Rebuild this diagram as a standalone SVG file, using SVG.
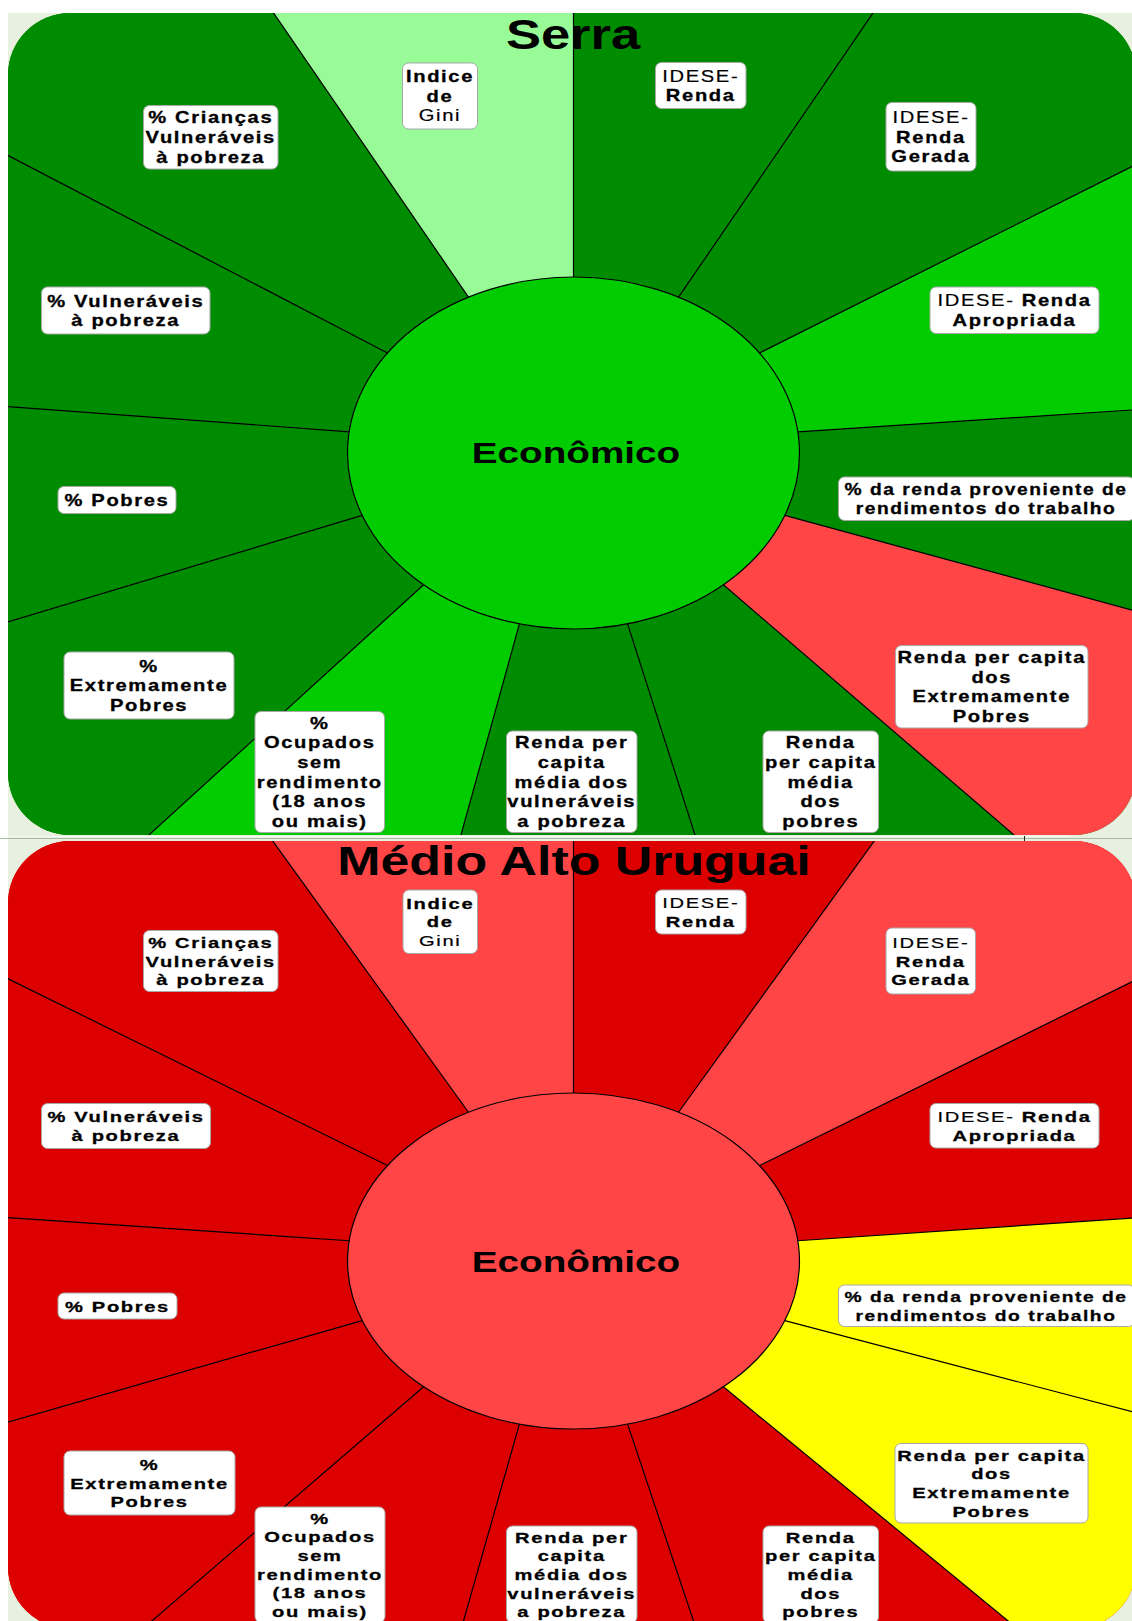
<svg xmlns="http://www.w3.org/2000/svg" width="1132" height="1621" viewBox="0 0 1132 1621">
  <style>
    .dg { fill: #008C00; }
    .bg { fill: #00CC00; }
    .lg { fill: #98FB98; }
    .lr { fill: #FF4545; }
    .dr { fill: #DC0000; }
    .ye { fill: #FFFF00; }
    .spoke { stroke: #000; stroke-width: 1.2; fill: none; }
    .hub { stroke: #000; stroke-width: 1.2; }
    .box { fill: #FFFFFF; stroke: #A8A8A8; stroke-width: 1; }
    .lbl { font-family: "Liberation Sans", Arial, sans-serif; font-weight: bold; font-size: 16px; letter-spacing: 1.3px; text-anchor: middle; fill: #000; stroke: #000; stroke-width: 0.3px; }
    .thin { font-weight: normal; stroke-width: 0.2px; }
    .title { font-family: "Liberation Sans", Arial, sans-serif; font-weight: bold; font-size: 42px; text-anchor: middle; fill: #000; }
    .hubtxt { font-family: "Liberation Sans", Arial, sans-serif; font-weight: bold; font-size: 30px; text-anchor: middle; fill: #000; }
  </style>
  <defs>
    <clipPath id="clipSerra"><rect x="8" y="13" width="1128" height="822" rx="62"/></clipPath>
    <clipPath id="clipMAU"><rect x="8" y="841" width="1128" height="788" rx="62"/></clipPath>
  </defs>

  <!-- page background -->
  <rect x="0" y="0" width="1132" height="1621" fill="#FFFFFF"/>
  <rect x="8" y="13" width="1124" height="1608" fill="#E8F0E0"/>
  <line x1="0" y1="836.5" x2="1070" y2="836.5" stroke="#F6FAF2" stroke-width="1"/>
  <line x1="0" y1="838.5" x2="1132" y2="838.5" stroke="#A8B8A4" stroke-width="1"/>
  <line x1="1024.5" y1="836" x2="1024.5" y2="841" stroke="#202020" stroke-width="1"/>

  <!-- ===== Panel 1: Serra ===== -->
  <g id="panel-serra">
    <g id="serra-sectors" clip-path="url(#clipSerra)">
      <rect x="8" y="13" width="1128" height="822" class="dg"/>
      <polygon id="serra-s-gini" class="lg" points="573.5,453 468.47,297.16 264.7,0 573.5,0 573.5,277"/>
      <polygon id="serra-s-renda" class="dg" points="573.5,453 573.5,277 573.5,0 881.9,0 678.53,297.16"/>
      <polygon id="serra-s-gerada" class="dg" points="573.5,453 678.53,297.16 881.9,0 1140,0 1140,162.5 759.5,353.02"/>
      <polygon id="serra-s-apropriada" class="bg" points="573.5,453 759.5,353.02 1140,162.5 1140,409.5 797.85,431.78"/>
      <polygon id="serra-s-trabalho" class="dg" points="573.5,453 797.85,431.78 1140,409.5 1140,612.2 784.81,515.41"/>
      <polygon id="serra-s-rendaext" class="lr" points="573.5,453 784.81,515.41 1140,612.2 1140,845 1025.6,845 723.37,584.74"/>
      <polygon id="serra-s-medpobres" class="dg" points="573.5,453 723.37,584.74 1025.6,845 698.2,845 627.59,623.89"/>
      <polygon id="serra-s-medvuln" class="dg" points="573.5,453 627.59,623.89 698.2,845 458.2,845 519.41,623.89"/>
      <polygon id="serra-s-ocupados" class="bg" points="573.5,453 519.41,623.89 458.2,845 138,845 423.63,584.74"/>
      <polygon id="serra-s-extpobres" class="dg" points="573.5,453 423.63,584.74 138,845 0,845 0,624.4 362.19,515.41"/>
      <polygon id="serra-s-pobres" class="dg" points="573.5,453 362.19,515.41 0,624.4 0,406 349.15,431.78"/>
      <polygon id="serra-s-vulneraveis" class="dg" points="573.5,453 349.15,431.78 0,406 0,151.3 387.5,353.02"/>
      <polygon id="serra-s-criancas" class="dg" points="573.5,453 387.5,353.02 0,151.3 0,0 264.7,0 468.47,297.16"/>
    </g>

    <g id="serra-connectors" clip-path="url(#clipSerra)">
      <line class="spoke" x1="573.5" y1="277" x2="573.5" y2="0"/>
      <line class="spoke" x1="678.53" y1="297.16" x2="881.9" y2="0"/>
      <line class="spoke" x1="759.5" y1="353.02" x2="1140" y2="162.5"/>
      <line class="spoke" x1="797.85" y1="431.78" x2="1140" y2="409.5"/>
      <line class="spoke" x1="784.81" y1="515.41" x2="1140" y2="612.2"/>
      <line class="spoke" x1="723.37" y1="584.74" x2="1025.6" y2="845"/>
      <line class="spoke" x1="627.59" y1="623.89" x2="698.2" y2="845"/>
      <line class="spoke" x1="519.41" y1="623.89" x2="458.2" y2="845"/>
      <line class="spoke" x1="423.63" y1="584.74" x2="138" y2="845"/>
      <line class="spoke" x1="362.19" y1="515.41" x2="0" y2="624.4"/>
      <line class="spoke" x1="349.15" y1="431.78" x2="0" y2="406"/>
      <line class="spoke" x1="387.5" y1="353.02" x2="0" y2="151.3"/>
      <line class="spoke" x1="468.47" y1="297.16" x2="264.7" y2="0"/>
    </g>

    <g id="serra-hub">
      <ellipse class="hub bg" cx="573.5" cy="453" rx="226" ry="176"/>
      <g transform="translate(576,463) scale(1.29,1)"><text class="hubtxt" x="0" y="0">Econômico</text></g>
    </g>

    <g id="serra-title" transform="translate(573,48.5) scale(1.25,1)">
      <text class="title" x="0" y="0">Serra</text>
    </g>

    <g id="serra-gini">
      <rect class="box" x="402.5" y="63" width="75" height="66" rx="6"/>
      <g transform="translate(440,96) scale(1.26,1)"><text class="lbl"><tspan x="0" y="-13.8">Indice</tspan><tspan x="0" y="5.8">de</tspan><tspan x="0" y="25.4" class="thin">Gini</tspan></text></g>
    </g>
    <g id="serra-idese-renda">
      <rect class="box" x="655.5" y="62.5" width="90.5" height="46" rx="6"/>
      <g transform="translate(700.75,85.5) scale(1.26,1)"><text class="lbl"><tspan x="0" y="-4" class="thin">IDESE-</tspan><tspan x="0" y="15.6">Renda</tspan></text></g>
    </g>
    <g id="serra-idese-gerada">
      <rect class="box" x="886" y="102.5" width="90" height="68.5" rx="6"/>
      <g transform="translate(931,136.75) scale(1.26,1)"><text class="lbl"><tspan x="0" y="-13.8" class="thin">IDESE-</tspan><tspan x="0" y="5.8">Renda</tspan><tspan x="0" y="25.4">Gerada</tspan></text></g>
    </g>
    <g id="serra-idese-apropriada">
      <rect class="box" x="930" y="287" width="169" height="46.5" rx="6"/>
      <g transform="translate(1014.5,310.25) scale(1.26,1)"><text class="lbl"><tspan x="0" y="-4"><tspan class="thin">IDESE-</tspan> Renda</tspan><tspan x="0" y="15.6">Apropriada</tspan></text></g>
    </g>
    <g id="serra-renda-trabalho">
      <rect class="box" x="838.5" y="477" width="296" height="43.5" rx="6"/>
      <g transform="translate(986,498.75) scale(1.2,1)"><text class="lbl"><tspan x="0" y="-4">% da renda proveniente de</tspan><tspan x="0" y="15.6">rendimentos do trabalho</tspan></text></g>
    </g>
    <g id="serra-renda-ext-pobres">
      <rect class="box" x="895.5" y="645.5" width="192.5" height="82.5" rx="6"/>
      <g transform="translate(991.75,686.75) scale(1.26,1)"><text class="lbl"><tspan x="0" y="-23.6">Renda per capita</tspan><tspan x="0" y="-4">dos</tspan><tspan x="0" y="15.6">Extremamente</tspan><tspan x="0" y="35.2">Pobres</tspan></text></g>
    </g>
    <g id="serra-renda-media-pobres">
      <rect class="box" x="763" y="731" width="115.5" height="101.5" rx="6"/>
      <g transform="translate(820.75,781.75) scale(1.26,1)"><text class="lbl"><tspan x="0" y="-33.4">Renda</tspan><tspan x="0" y="-13.8">per capita</tspan><tspan x="0" y="5.8">média</tspan><tspan x="0" y="25.4">dos</tspan><tspan x="0" y="45">pobres</tspan></text></g>
    </g>
    <g id="serra-renda-media-vulneraveis">
      <rect class="box" x="506.5" y="731" width="130.5" height="101.5" rx="6"/>
      <g transform="translate(571.75,781.75) scale(1.26,1)"><text class="lbl"><tspan x="0" y="-33.4">Renda per</tspan><tspan x="0" y="-13.8">capita</tspan><tspan x="0" y="5.8">média dos</tspan><tspan x="0" y="25.4">vulneráveis</tspan><tspan x="0" y="45">a pobreza</tspan></text></g>
    </g>
    <g id="serra-ocupados">
      <rect class="box" x="255" y="711.5" width="129.5" height="121" rx="6"/>
      <g transform="translate(319.75,772) scale(1.26,1)"><text class="lbl"><tspan x="0" y="-43.2">%</tspan><tspan x="0" y="-23.6">Ocupados</tspan><tspan x="0" y="-4">sem</tspan><tspan x="0" y="15.6">rendimento</tspan><tspan x="0" y="35.2">(18 anos</tspan><tspan x="0" y="54.8">ou mais)</tspan></text></g>
    </g>
    <g id="serra-ext-pobres">
      <rect class="box" x="64" y="652" width="170" height="67" rx="6"/>
      <g transform="translate(149,685.5) scale(1.26,1)"><text class="lbl"><tspan x="0" y="-13.8">%</tspan><tspan x="0" y="5.8">Extremamente</tspan><tspan x="0" y="25.4">Pobres</tspan></text></g>
    </g>
    <g id="serra-pobres">
      <rect class="box" x="58" y="486.5" width="118" height="27" rx="6"/>
      <g transform="translate(117,500) scale(1.26,1)"><text class="lbl"><tspan x="0" y="5.8">% Pobres</tspan></text></g>
    </g>
    <g id="serra-vulneraveis">
      <rect class="box" x="41.5" y="287" width="168.5" height="47" rx="6"/>
      <g transform="translate(125.75,310.5) scale(1.26,1)"><text class="lbl"><tspan x="0" y="-4">% Vulneráveis</tspan><tspan x="0" y="15.6">à pobreza</tspan></text></g>
    </g>
    <g id="serra-criancas">
      <rect class="box" x="143.5" y="105.5" width="134.5" height="63.5" rx="6"/>
      <g transform="translate(210.75,137.25) scale(1.26,1)"><text class="lbl"><tspan x="0" y="-13.8">% Crianças</tspan><tspan x="0" y="5.8">Vulneráveis</tspan><tspan x="0" y="25.4">à pobreza</tspan></text></g>
    </g>
  </g>

  <!-- ===== Panel 2: Médio Alto Uruguai ===== -->
  <g id="panel-mau">
    <g id="mau-sectors" clip-path="url(#clipMAU)">
      <rect x="8" y="841" width="1128" height="788" class="dr"/>
      <polygon id="mau-s-gini" class="lr" points="573.5,1261 468.47,1112.24 264.8,830 573.5,830 573.5,1093"/>
      <polygon id="mau-s-renda" class="dr" points="573.5,1261 573.5,1093 573.5,830 882.2,830 678.53,1112.24"/>
      <polygon id="mau-s-gerada" class="lr" points="573.5,1261 678.53,1112.24 882.2,830 1140,830 1140,977.8 759.5,1165.57"/>
      <polygon id="mau-s-apropriada" class="dr" points="573.5,1261 759.5,1165.57 1140,977.8 1140,1217.5 797.85,1240.75"/>
      <polygon id="mau-s-trabalho" class="ye" points="573.5,1261 797.85,1240.75 1140,1217.5 1140,1413.8 784.81,1320.57"/>
      <polygon id="mau-s-rendaext" class="ye" points="573.5,1261 784.81,1320.57 1140,1413.8 1140,1640 1031.3,1640 723.37,1386.75"/>
      <polygon id="mau-s-medpobres" class="dr" points="573.5,1261 723.37,1386.75 1031.3,1640 699.9,1640 627.59,1424.12"/>
      <polygon id="mau-s-medvuln" class="dr" points="573.5,1261 627.59,1424.12 699.9,1640 458.1,1640 519.41,1424.12"/>
      <polygon id="mau-s-ocupados" class="dr" points="573.5,1261 519.41,1424.12 458.1,1640 129.8,1640 423.63,1386.75"/>
      <polygon id="mau-s-extpobres" class="dr" points="573.5,1261 423.63,1386.75 129.8,1640 0,1640 0,1424.3 362.19,1320.57"/>
      <polygon id="mau-s-pobres" class="dr" points="573.5,1261 362.19,1320.57 0,1424.3 0,1217.1 349.15,1240.75"/>
      <polygon id="mau-s-vulneraveis" class="dr" points="573.5,1261 349.15,1240.75 0,1217.1 0,974.8 387.5,1165.57"/>
      <polygon id="mau-s-criancas" class="dr" points="573.5,1261 387.5,1165.57 0,974.8 0,830 264.8,830 468.47,1112.24"/>
    </g>

    <g id="mau-connectors" clip-path="url(#clipMAU)">
      <line class="spoke" x1="573.5" y1="1093" x2="573.5" y2="830"/>
      <line class="spoke" x1="678.53" y1="1112.24" x2="882.2" y2="830"/>
      <line class="spoke" x1="759.5" y1="1165.57" x2="1140" y2="977.8"/>
      <line class="spoke" x1="797.85" y1="1240.75" x2="1140" y2="1217.5"/>
      <line class="spoke" x1="784.81" y1="1320.57" x2="1140" y2="1413.8"/>
      <line class="spoke" x1="723.37" y1="1386.75" x2="1031.3" y2="1640"/>
      <line class="spoke" x1="627.59" y1="1424.12" x2="699.9" y2="1640"/>
      <line class="spoke" x1="519.41" y1="1424.12" x2="458.1" y2="1640"/>
      <line class="spoke" x1="423.63" y1="1386.75" x2="129.8" y2="1640"/>
      <line class="spoke" x1="362.19" y1="1320.57" x2="0" y2="1424.3"/>
      <line class="spoke" x1="349.15" y1="1240.75" x2="0" y2="1217.1"/>
      <line class="spoke" x1="387.5" y1="1165.57" x2="0" y2="974.8"/>
      <line class="spoke" x1="468.47" y1="1112.24" x2="264.8" y2="830"/>
    </g>

    <g id="mau-hub">
      <ellipse class="hub lr" cx="573.5" cy="1261" rx="226" ry="168"/>
      <g transform="translate(576,1271.5) scale(1.29,0.955)"><text class="hubtxt" x="0" y="0">Econômico</text></g>
    </g>

    <g id="mau-title" transform="translate(574,875) scale(1.235,0.955)">
      <text class="title" x="0" y="0">Médio Alto Uruguai</text>
    </g>

    <g id="mau-gini">
      <rect class="box" x="403" y="890" width="74.5" height="63.5" rx="6"/>
      <g transform="translate(440.25,921.75) scale(1.26,0.955)"><text class="lbl"><tspan x="0" y="-13.8">Indice</tspan><tspan x="0" y="5.8">de</tspan><tspan x="0" y="25.4" class="thin">Gini</tspan></text></g>
    </g>
    <g id="mau-idese-renda">
      <rect class="box" x="655.5" y="890" width="90.5" height="44" rx="6"/>
      <g transform="translate(700.75,912) scale(1.26,0.955)"><text class="lbl"><tspan x="0" y="-4" class="thin">IDESE-</tspan><tspan x="0" y="15.6">Renda</tspan></text></g>
    </g>
    <g id="mau-idese-gerada">
      <rect class="box" x="886" y="928" width="89.5" height="66" rx="6"/>
      <g transform="translate(930.75,961) scale(1.26,0.955)"><text class="lbl"><tspan x="0" y="-13.8" class="thin">IDESE-</tspan><tspan x="0" y="5.8">Renda</tspan><tspan x="0" y="25.4">Gerada</tspan></text></g>
    </g>
    <g id="mau-idese-apropriada">
      <rect class="box" x="930" y="1103.5" width="169" height="44.5" rx="6"/>
      <g transform="translate(1014.5,1125.75) scale(1.26,0.955)"><text class="lbl"><tspan x="0" y="-4"><tspan class="thin">IDESE-</tspan> Renda</tspan><tspan x="0" y="15.6">Apropriada</tspan></text></g>
    </g>
    <g id="mau-renda-trabalho">
      <rect class="box" x="838.5" y="1285" width="296" height="41.5" rx="6"/>
      <g transform="translate(986,1305.75) scale(1.2,0.955)"><text class="lbl"><tspan x="0" y="-4">% da renda proveniente de</tspan><tspan x="0" y="15.6">rendimentos do trabalho</tspan></text></g>
    </g>
    <g id="mau-renda-ext-pobres">
      <rect class="box" x="895" y="1443.5" width="193" height="79.5" rx="6"/>
      <g transform="translate(991.5,1483.25) scale(1.26,0.955)"><text class="lbl"><tspan x="0" y="-23.6">Renda per capita</tspan><tspan x="0" y="-4">dos</tspan><tspan x="0" y="15.6">Extremamente</tspan><tspan x="0" y="35.2">Pobres</tspan></text></g>
    </g>
    <g id="mau-renda-media-pobres">
      <rect class="box" x="763" y="1526" width="115.5" height="97" rx="6"/>
      <g transform="translate(820.75,1574.5) scale(1.26,0.955)"><text class="lbl"><tspan x="0" y="-33.4">Renda</tspan><tspan x="0" y="-13.8">per capita</tspan><tspan x="0" y="5.8">média</tspan><tspan x="0" y="25.4">dos</tspan><tspan x="0" y="45">pobres</tspan></text></g>
    </g>
    <g id="mau-renda-media-vulneraveis">
      <rect class="box" x="506.5" y="1526" width="130.5" height="97" rx="6"/>
      <g transform="translate(571.75,1574.5) scale(1.26,0.955)"><text class="lbl"><tspan x="0" y="-33.4">Renda per</tspan><tspan x="0" y="-13.8">capita</tspan><tspan x="0" y="5.8">média dos</tspan><tspan x="0" y="25.4">vulneráveis</tspan><tspan x="0" y="45">a pobreza</tspan></text></g>
    </g>
    <g id="mau-ocupados">
      <rect class="box" x="255" y="1507" width="130" height="115.6" rx="6"/>
      <g transform="translate(320,1564.8) scale(1.26,0.955)"><text class="lbl"><tspan x="0" y="-43.2">%</tspan><tspan x="0" y="-23.6">Ocupados</tspan><tspan x="0" y="-4">sem</tspan><tspan x="0" y="15.6">rendimento</tspan><tspan x="0" y="35.2">(18 anos</tspan><tspan x="0" y="54.8">ou mais)</tspan></text></g>
    </g>
    <g id="mau-ext-pobres">
      <rect class="box" x="64" y="1451" width="171" height="64" rx="6"/>
      <g transform="translate(149.5,1483) scale(1.26,0.955)"><text class="lbl"><tspan x="0" y="-13.8">%</tspan><tspan x="0" y="5.8">Extremamente</tspan><tspan x="0" y="25.4">Pobres</tspan></text></g>
    </g>
    <g id="mau-pobres">
      <rect class="box" x="58" y="1293" width="119" height="26" rx="6"/>
      <g transform="translate(117.5,1306) scale(1.26,0.955)"><text class="lbl"><tspan x="0" y="5.8">% Pobres</tspan></text></g>
    </g>
    <g id="mau-vulneraveis">
      <rect class="box" x="41.5" y="1103.5" width="169" height="45" rx="6"/>
      <g transform="translate(126,1126) scale(1.26,0.955)"><text class="lbl"><tspan x="0" y="-4">% Vulneráveis</tspan><tspan x="0" y="15.6">à pobreza</tspan></text></g>
    </g>
    <g id="mau-criancas">
      <rect class="box" x="143.5" y="930.5" width="134.5" height="61" rx="6"/>
      <g transform="translate(210.75,961) scale(1.26,0.955)"><text class="lbl"><tspan x="0" y="-13.8">% Crianças</tspan><tspan x="0" y="5.8">Vulneráveis</tspan><tspan x="0" y="25.4">à pobreza</tspan></text></g>
    </g>
  </g>
</svg>
